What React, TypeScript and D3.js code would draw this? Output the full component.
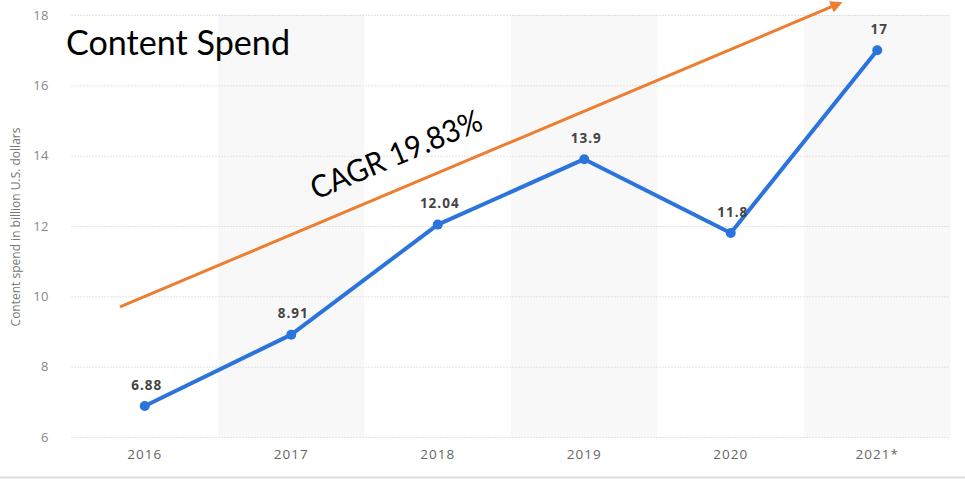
import React from "react";
import * as d3 from "d3";

const years = ["2016", "2017", "2018", "2019", "2020", "2021*"];
const spend = [6.88, 8.91, 12.04, 13.9, 11.8, 17];
const yTicks = [6, 8, 10, 12, 14, 16, 18];
const trendStart = 9.7;
const trendEndValue = 18.37;
const title = "Content Spend";
const cagrLabel = "CAGR 19.83%";
const yAxisTitle = "Content spend in billion U.S. dollars";

const W = 965;
const H = 479;

export default function App() {
  const x = d3.scaleBand<string>().domain(years).range([71.5, 950.5]);
  const y = d3.scaleLinear().domain([6, 18]).range([437, 15]);
  const cx = (d: string) => (x(d) as number) + x.bandwidth() / 2;
  const line = d3
    .line<number>()
    .x((_, i) => cx(years[i]))
    .y((d) => y(d));

  const ax1 = 120;
  const ay1 = y(trendStart);
  const ax2 = 843;
  const ay2 = y(trendEndValue);
  const ang = (Math.atan2(ay2 - ay1, ax2 - ax1) * 180) / Math.PI;
  const len = Math.hypot(ax2 - ax1, ay2 - ay1);
  const ux = (ax2 - ax1) / len;
  const uy = (ay2 - ay1) / len;

  return (
    <svg
      width={W}
      height={H}
      style={{ position: "absolute", left: 0, top: 0, background: "#fff" }}
      fontFamily="'Open Sans', sans-serif"
    >
      <defs>
        <marker
          id="arrow"
          viewBox="0 0 10 10"
          refX="3"
          refY="5"
          markerWidth="4.5"
          markerHeight="4"
          orient="auto"
        >
          <path d="M0,0 L10,5 L0,10 z" fill="#ED7D31" />
        </marker>
      </defs>
      {years.map((d, i) =>
        i % 2 === 1 ? (
          <rect
            key={d}
            x={x(d)}
            y={y(18)}
            width={x.bandwidth()}
            height={y(6) - y(18)}
            fill="#f8f8f8"
          />
        ) : null
      )}
      {yTicks.map((t) => (
        <g key={t}>
          <line
            x1={71.5}
            x2={950.5}
            y1={y(t) + 0.5}
            y2={y(t) + 0.5}
            stroke="#c8c8c8"
            strokeDasharray="1,2"
          />
          <text
            x={49}
            y={y(t) + 4.5}
            textAnchor="end"
            fontSize={13}
            fill="#888"
            letterSpacing={0.5}
          >
            {t}
          </text>
        </g>
      ))}
      <text
        transform={`translate(20,${227}) rotate(-90)`}
        textAnchor="middle"
        fontSize={12}
        fill="#777"
      >
        {yAxisTitle}
      </text>
      {years.map((d) => (
        <text
          key={d}
          x={cx(d)}
          y={459}
          textAnchor="middle"
          fontSize={13.5}
          fill="#666"
          letterSpacing={1}
        >
          {d}
        </text>
      ))}
      <path
        d={line(spend) || ""}
        fill="none"
        stroke="#2A74DC"
        strokeWidth={4}
        strokeLinejoin="round"
      />
      {spend.map((v, i) => (
        <g key={i}>
          <circle cx={cx(years[i])} cy={y(v)} r={5} fill="#2A74DC" />
          <text
            x={cx(years[i]) + 2}
            y={y(v) - 16.5}
            textAnchor="middle"
            fontSize={13.5}
            fontWeight="bold"
            fill="#444"
            letterSpacing={1}
          >
            {v}
          </text>
        </g>
      ))}
      <line
        x1={ax1}
        y1={ay1}
        x2={ax2 - ux * 9}
        y2={ay2 - uy * 9}
        stroke="#ED7D31"
        strokeWidth={3}
        markerEnd="url(#arrow)"
      />
      <text
        transform={`translate(316,${200}) rotate(${ang})`}
        fontSize={31}
        fill="#000"
        fontFamily="Lato, sans-serif"
        textLength={183}
        lengthAdjust="spacingAndGlyphs"
      >
        {cagrLabel}
      </text>
      <text
        x={66}
        y={55}
        fontSize={34}
        fill="#000"
        fontFamily="Lato, sans-serif"
        textLength={224}
        lengthAdjust="spacingAndGlyphs"
      >
        {title}
      </text>
      <line x1={0} x2={W} y1={477.5} y2={477.5} stroke="#ddd" strokeWidth={2} />
    </svg>
  );
}
